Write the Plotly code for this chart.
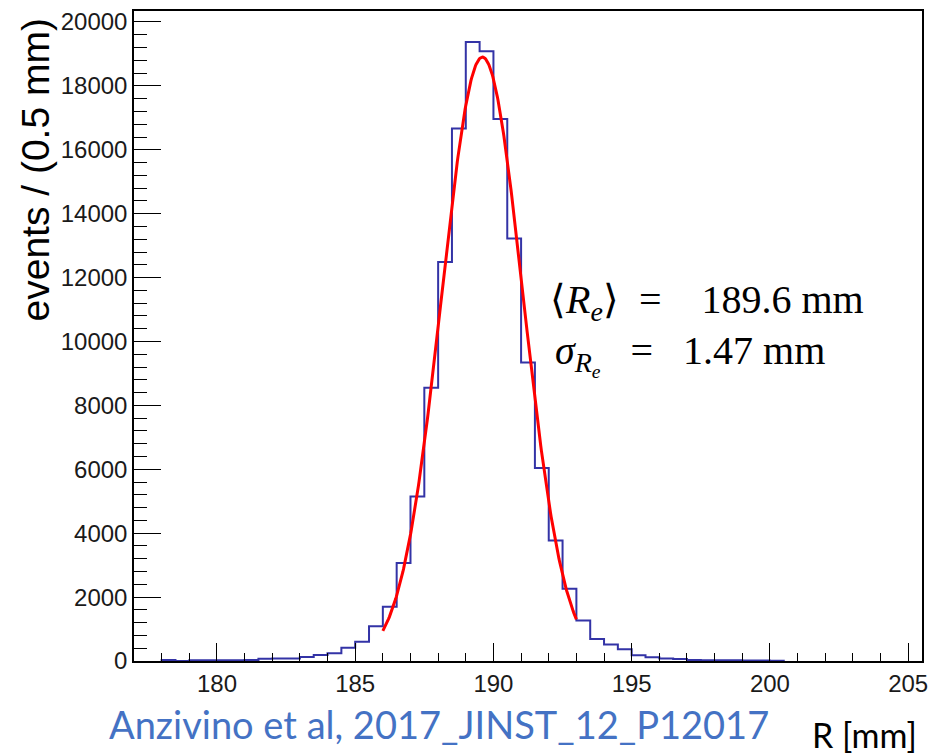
import numpy as np
import plotly.graph_objects as go

# Histogram of reconstructed radius, 0.5 mm bins starting at 178 mm
bin_width = 0.5
bin_low_edges = np.arange(178.0, 200.5, bin_width)
counts = [
    30, 0, 20, 25, 25, 25, 30, 70, 75, 80,
    125, 185, 240, 415, 600, 1090, 1695, 3070, 5150, 8550,
    12490, 16670, 19375, 19085, 16965, 13220, 9340, 6040, 3775, 2260,
    1270, 686, 520, 364, 177, 115, 75, 65, 30, 25,
    20, 20, 15, 15, 10,
]

# Gaussian fit parameters
fit_mean = 189.6
fit_sigma = 1.47
fit_amplitude = 18900
fit_range = (186.0, 193.0)

x_range = [177.0, 205.5]
y_range = [0, 20344]

W, H = 941, 754
L, R, T, B = 134, 19, 8, 93


def px(xp):
    return (xp - L) / (W - L - R)


def py(yp):
    return (H - B - yp) / (H - B - T)


# step outline of the histogram
step_x = [bin_low_edges[0]] + list(bin_low_edges) + [bin_low_edges[-1] + bin_width]
step_y = [0] + counts + [0]

fit_x = np.linspace(fit_range[0], fit_range[1], 300)
fit_y = fit_amplitude * np.exp(-0.5 * ((fit_x - fit_mean) / fit_sigma) ** 2)

fig = go.Figure()
fig.add_trace(go.Scatter(
    x=step_x, y=step_y, mode="lines", line_shape="hv",
    line=dict(color="#3333a6", width=2), hoverinfo="skip",
))
fig.add_trace(go.Scatter(
    x=fit_x, y=fit_y, mode="lines",
    line=dict(color="#ff0000", width=3), hoverinfo="skip",
))

tick_font = dict(family="Liberation Sans, Arial, sans-serif", size=24, color="#1a1a1a")

fig.update_xaxes(
    range=x_range, tick0=180, dtick=5, ticks="inside", ticklen=18, tickwidth=1,
    tickcolor="black", showgrid=False, zeroline=False, showline=True,
    linecolor="black", linewidth=1.5, mirror=True, tickfont=tick_font,
    minor=dict(dtick=1, tick0=180, ticks="inside", ticklen=8, tickcolor="black",
               tickwidth=1, showgrid=False),
)
fig.update_yaxes(
    range=y_range, tick0=0, dtick=2000, tickformat="d", ticks="inside",
    ticklen=27, tickwidth=1,
    tickcolor="black", showgrid=False, zeroline=False, showline=True,
    linecolor="black", linewidth=1.5, mirror=True, tickfont=tick_font,
    minor=dict(dtick=400, tick0=0, ticks="inside", ticklen=13, tickcolor="black",
               tickwidth=1, showgrid=False),
)

math_font = dict(family="Liberation Serif, Times New Roman, serif", size=40, color="black")
sp = "\u00a0"

annotations = [
    dict(text="events / (0.5 mm)", textangle=-90, x=px(35), y=py(14),
         xanchor="center", yanchor="top",
         font=dict(family="Liberation Sans, Arial, sans-serif", size=39, color="black")),
    dict(text="\u27e8<i>R</i><sub><i>e</i></sub>\u27e9" + sp + sp + "=" + sp * 4 + "189.6" + sp + "mm",
         x=px(548), y=py(300), xanchor="left", yanchor="middle", font=math_font),
    dict(text="<i>\u03c3</i><sub><i>R</i><sub><i>e</i></sub></sub>" + sp * 3 + "=" + sp * 3 + "1.47" + sp + "mm",
         x=px(553), y=py(354), xanchor="left", yanchor="middle", font=math_font),
    dict(text="Anzivino et al, 2017_JINST_12_P12017", x=px(107), y=py(724),
         xanchor="left", yanchor="middle",
         font=dict(family="Lato, sans-serif", size=38, color="#4472c4")),
    dict(text="R [mm]", x=px(810), y=py(735), xanchor="left", yanchor="middle",
         font=dict(family="Lato, sans-serif", size=34, color="black")),
]
for a in annotations:
    a.update(xref="paper", yref="paper", showarrow=False)

fig.update_layout(
    width=W, height=H, margin=dict(l=L, r=R, t=T, b=B),
    paper_bgcolor="white", plot_bgcolor="white", showlegend=False,
    annotations=annotations,
)

fig.write_html("out.html")
